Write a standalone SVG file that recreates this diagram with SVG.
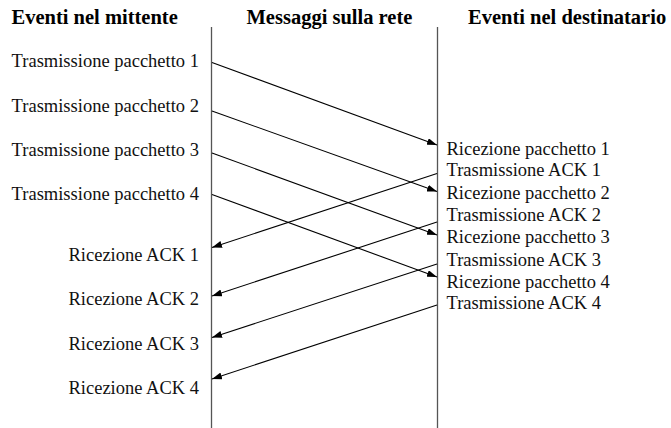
<svg xmlns="http://www.w3.org/2000/svg" width="671" height="428" viewBox="0 0 671 428">
  <defs>
    <marker id="arrow" markerWidth="10" markerHeight="7" refX="10" refY="3.5" orient="auto" markerUnits="userSpaceOnUse">
      <path d="M0,0 L10,3.5 L0,7 z" fill="#000"/>
    </marker>
    <style>
      .hdr { font-family: "Liberation Serif", "Times New Roman", serif; font-weight: bold; font-size: 20.5px; fill: #000; }
      .lbl { font-family: "Liberation Serif", "Times New Roman", serif; font-size: 18.5px; fill: #111; }
      .end { text-anchor: end; }
      .lane { stroke: #555; stroke-width: 1.3; fill: none; }
      .msg { stroke: #000; stroke-width: 1.1; fill: none; marker-end: url(#arrow); }
    </style>
  </defs>
  <rect width="671" height="428" fill="#fff"/>

  <!-- column headings -->
  <g id="headers">
    <text class="hdr" x="11.5" y="24">Eventi nel mittente</text>
    <text class="hdr" x="246.5" y="24">Messaggi sulla rete</text>
    <text class="hdr" x="468" y="24">Eventi nel destinatario</text>
  </g>

  <!-- time lines of sender and receiver -->
  <g id="lanes">
    <line class="lane" x1="211.5" y1="27" x2="211.5" y2="428"/>
    <line class="lane" x1="437.5" y1="27" x2="437.5" y2="428"/>
  </g>

  <!-- sender events -->
  <g id="sender">
    <g id="tx-p1"><text class="lbl end" x="199" y="67">Trasmissione pacchetto 1</text></g>
    <g id="tx-p2"><text class="lbl end" x="199" y="112">Trasmissione pacchetto 2</text></g>
    <g id="tx-p3"><text class="lbl end" x="199" y="156">Trasmissione pacchetto 3</text></g>
    <g id="tx-p4"><text class="lbl end" x="199" y="200">Trasmissione pacchetto 4</text></g>
    <g id="rx-ack1"><text class="lbl end" x="199" y="261">Ricezione ACK 1</text></g>
    <g id="rx-ack2"><text class="lbl end" x="199" y="305">Ricezione ACK 2</text></g>
    <g id="rx-ack3"><text class="lbl end" x="199" y="349.5">Ricezione ACK 3</text></g>
    <g id="rx-ack4"><text class="lbl end" x="199" y="394">Ricezione ACK 4</text></g>
  </g>

  <!-- receiver events -->
  <g id="receiver">
    <g id="rx-p1"><text class="lbl" x="446.5" y="155">Ricezione pacchetto 1</text></g>
    <g id="tx-ack1"><text class="lbl" x="446.5" y="176">Trasmissione ACK 1</text></g>
    <g id="rx-p2"><text class="lbl" x="446.5" y="199">Ricezione pacchetto 2</text></g>
    <g id="tx-ack2"><text class="lbl" x="446.5" y="220.5">Trasmissione ACK 2</text></g>
    <g id="rx-p3"><text class="lbl" x="446.5" y="243">Ricezione pacchetto 3</text></g>
    <g id="tx-ack3"><text class="lbl" x="446.5" y="265.5">Trasmissione ACK 3</text></g>
    <g id="rx-p4"><text class="lbl" x="446.5" y="288">Ricezione pacchetto 4</text></g>
    <g id="tx-ack4"><text class="lbl" x="446.5" y="309">Trasmissione ACK 4</text></g>
  </g>

  <!-- packets and acknowledgements in flight -->
  <g id="connectors">
    <line class="msg" x1="212" y1="62.5" x2="437" y2="145"/>
    <line class="msg" x1="212" y1="111" x2="437" y2="191.5"/>
    <line class="msg" x1="212" y1="153" x2="437" y2="235"/>
    <line class="msg" x1="212" y1="194.5" x2="437" y2="277"/>
    <line class="msg" x1="437" y1="173.5" x2="212" y2="247.5"/>
    <line class="msg" x1="437" y1="222" x2="212" y2="296"/>
    <line class="msg" x1="437" y1="264" x2="212" y2="337.5"/>
    <line class="msg" x1="437" y1="305" x2="212" y2="379"/>
  </g>
</svg>
